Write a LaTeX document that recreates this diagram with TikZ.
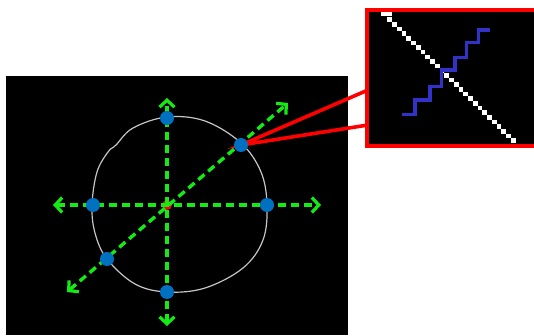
\documentclass[tikz,border=0pt]{standalone}
\usetikzlibrary{arrows.meta}
\definecolor{gr}{RGB}{20,235,20}
\definecolor{dotblue}{RGB}{0,112,192}
\definecolor{stairblue}{RGB}{50,50,200}
\tikzset{
  axis/.style={gr, line width=3.4pt, dash pattern=on 8pt off 5pt, {Straight Barb[length=7pt,width=15pt,line width=3.2pt]}-{Straight Barb[length=7pt,width=15pt,line width=3.2pt]}},
  dot/.style={circle, fill=dotblue, minimum size=14pt, inner sep=0pt},
  zoomline/.style={red, line width=3.6pt},
}
\begin{document}
\begin{tikzpicture}[x=1pt,y=-1pt]
\useasboundingbox (0,0) rectangle (534,336);
\fill[white] (0,0) rectangle (534,336);
% main panel
\fill[black] (6,76) rectangle (348,335);
% outline of the shape
\draw[gray!45!white, line width=1.2pt] plot[smooth cycle, tension=0.6] coordinates {
 (167,117) (205,121) (241,143) (261,172) (267,205) (263,240) (243,268) (205,288)
 (167,292) (135,284) (107,259) (95,233) (92,205) (97,172) (108,152) (116,145) (133,128)};
% coordinates
\coordinate (c) at (167,205);
\coordinate (tipU) at (167,98);
\coordinate (tipD) at (167,326);
\coordinate (tipL) at (53,205);
\coordinate (tipR) at (321,205);
\coordinate (tipUR) at (288,103);
\coordinate (tipLL) at (67,292);
% red centre mark
\fill[red] (c) circle (5pt);
% axes
\draw[axis] (tipD) -- (tipU);
\draw[axis] (tipL) -- (tipR);
\draw[axis] (tipLL) -- (tipUR);
% zoom lines
\coordinate (zA) at (368,90);
\coordinate (zB) at (368,125);
\draw[zoomline, line join=miter] (zA) -- (241,145) -- (zB);
% dots
\node[dot] (dU) at (167,118) {};
\node[dot] (dD) at (167,292) {};
\node[dot] (dL) at (93,205) {};
\node[dot] (dR) at (267,205) {};
\node[dot] (dUR) at (241,145) {};
\node[dot] (dLL) at (107,259) {};
% inset
\fill[black] (367,10) rectangle (536,146);
\fill[white] (381,12) rectangle (392,16.5);
\foreach \i in {1,...,27}{
  \pgfmathsetmacro{\xx}{385+\i*4.75}
  \pgfmathsetmacro{\yy}{15+\i*4.65}
  \fill[white] (\xx-2.3,\yy-2.3) rectangle (\xx+2.3,\yy+2.3);
}
\draw[stairblue, line width=3.2pt] (402,114.3) -- (415,114.3) -- (415,100) -- (430,100) -- (430,86.7) -- (441.7,86.7) -- (441.7,70) -- (455,70) -- (455,57.3) -- (466.7,57.3) -- (466.7,42.7) -- (478.3,42.7) -- (478.3,30) -- (490,30);
\draw[red, line width=3.2pt] (367,10) rectangle (537,146);
\end{tikzpicture}
\end{document}
